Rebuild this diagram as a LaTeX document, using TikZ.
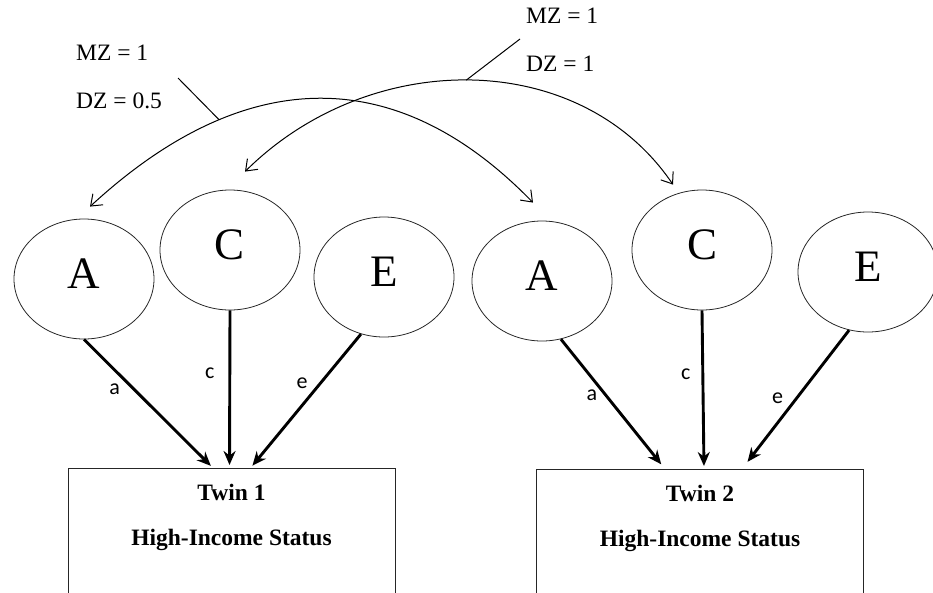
\documentclass[tikz,border=0pt]{standalone}
\usepackage{fontspec}
\setmainfont{Liberation Serif}
\newfontfamily\calibri{Carlito}
\usetikzlibrary{arrows.meta, shapes.geometric}
\tikzset{
  factor/.style={ellipse, draw=black!85, line width=0.8pt, minimum width=140pt,
    minimum height=120pt, inner sep=0pt, text depth=10pt, font=\fontsize{45}{54}\selectfont},
  twinbox/.style={draw=black!85, line width=0.9pt, minimum width=327pt,
    minimum height=170pt, anchor=north},
  boxtext/.style={font=\bfseries\fontsize{23.5}{28}\selectfont, inner sep=0pt},
  corrtext/.style={font=\fontsize{23.5}{28}\selectfont, inner sep=0pt, anchor=west},
  path/.style={line width=2.9pt, -{Stealth[length=14pt,width=12pt]}, shorten >=3pt},
  corr/.style={line width=1pt, {Straight Barb[length=10pt,width=15pt]}-{Straight Barb[length=10pt,width=15pt]}},
  coef/.style={font=\calibri\fontsize{22}{26}\selectfont, inner sep=0pt}
}
\begin{document}
\begin{tikzpicture}[x=1pt,y=-1pt]
    \useasboundingbox (0,0) rectangle (933,592);
    \node[factor] (A1) at (84,279) {A};
    \node[factor] (C1) at (230,250) {C};
    \node[factor] (E1) at (384,277) {E};
    \node[factor] (A2) at (542,281) {A};
    \node[factor] (C2) at (702,250) {C};
    \node[factor] (E2) at (868,272) {E};
    \node[twinbox] (T1) at (231.5,468) {};
    \node[twinbox] (T2) at (700,469) {};
    \node[boxtext] (t1name) at ([yshift=-24pt]T1.north) {Twin 1};
    \node[boxtext] (t1trait) at ([yshift=-72pt]T1.north) {High-Income Status};
    \node[boxtext] (t2name) at ([yshift=-24pt]T2.north) {Twin 2};
    \node[boxtext] (t2trait) at ([yshift=-72pt]T2.north) {High-Income Status};
    % correlation labels
    \node[corrtext] (mzA) at (76,53) {MZ = 1};
    \node[corrtext] (dzA) at (76,101) {DZ = 0.5};
    \node[corrtext] (mzC) at (526,16) {MZ = 1};
    \node[corrtext] (dzC) at (526,64) {DZ = 1};
    \coordinate (kA) at (178,78);
    \coordinate (kC) at (520,39);
    % curved correlations
    \draw[corr] ([shift={(6,-12)}]A1.north) .. controls +(155,-143) and +(-136,-140)
      .. ([shift={(-9,-18)}]A2.north) coordinate[pos=0.28] (pA);
    \draw[corr] ([shift={(15,-18)}]C1.north) .. controls +(125,-124) and +(-93,-137)
      .. ([shift={(-29,-5)}]C2.north) coordinate[pos=0.49] (pC);
    \draw[line width=1pt] (pA) -- (kA);
    \draw[line width=1pt] (pC) -- (kC);
    % paths twin 1
    \draw[path] (A1.south) -- node[coef, pos=0.39, left=13pt] (la1) {a} ([xshift=-18.5pt]T1.north);
    \draw[path] (C1.south) -- node[coef, pos=0.4, left=14pt] (lc1) {c} ([xshift=-2pt]T1.north);
    \draw[path] (E1.248) -- node[coef, pos=0.37, left=11pt] (le1) {e} ([xshift=19pt]T1.north);
    % paths twin 2
    \draw[path, shorten >=6pt] (A2.288) -- node[coef, pos=0.43, left=7pt] (la2) {a} ([xshift=-35pt]T2.north);
    \draw[path] (C2.south) -- node[coef, pos=0.4, left=11pt] (lc2) {c} ([xshift=4pt]T2.north);
    \draw[path, shorten >=9pt] (E2.252) -- node[coef, pos=0.49, left=12pt] (le2) {e} ([xshift=42pt]T2.north);
\end{tikzpicture}
\end{document}
